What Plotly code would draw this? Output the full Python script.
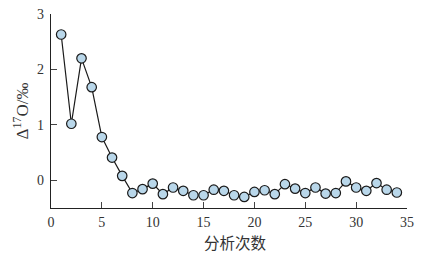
import plotly.graph_objects as go

run_index = list(range(1, 35))
delta17O = [2.63, 1.02, 2.20, 1.68, 0.78, 0.41, 0.08, -0.23, -0.16, -0.06,
            -0.25, -0.13, -0.19, -0.27, -0.27, -0.17, -0.19, -0.27, -0.30, -0.21,
            -0.18, -0.25, -0.07, -0.15, -0.23, -0.13, -0.24, -0.23, -0.02, -0.13,
            -0.19, -0.05, -0.17, -0.22]
x_ticks = [0, 5, 10, 15, 20, 25, 30, 35]
y_ticks = [0, 1, 2, 3]

fig = go.Figure(go.Scatter(
    x=run_index, y=delta17O, mode="lines+markers",
    line=dict(color="#1a1a1a", width=1.2),
    marker=dict(size=9.5, color="#b9d7ea", line=dict(color="#1a1a1a", width=1.2)),
))
serif = "Liberation Serif, Times New Roman, serif"
axis_font = dict(family=serif, size=14, color="#333")
fig.update_layout(
    width=443, height=254, margin=dict(l=51, r=36, t=14, b=46),
    plot_bgcolor="white", paper_bgcolor="white", showlegend=False,
    xaxis=dict(range=[0, 35], tickvals=x_ticks, ticks="inside", ticklen=6,
               showline=True, linecolor="#222", linewidth=1.2, showgrid=False,
               zeroline=False, tickfont=axis_font, automargin=False, ticklabelstandoff=1),
    yaxis=dict(range=[-0.5, 3], tickvals=y_ticks, ticks="inside", ticklen=6,
               showline=True, linecolor="#222", linewidth=1.2, showgrid=False,
               zeroline=False, tickfont=axis_font, automargin=False, ticklabelstandoff=3,
               title=dict(text="Δ<sup>17</sup>O/‰", font=dict(family=serif, size=17, color="#333"), standoff=4)),
    annotations=[dict(text="分析次数", xref="paper", yref="paper", x=0.517, y=-0.175,
                      xanchor="center", yanchor="middle", showarrow=False,
                      font=dict(family="Noto Sans CJK SC", size=15.5, color="#333"))],
)
fig.write_html("out.html", config={"displayModeBar": False},
               post_script="document.body.style.margin='0';document.body.style.overflow='hidden';")
